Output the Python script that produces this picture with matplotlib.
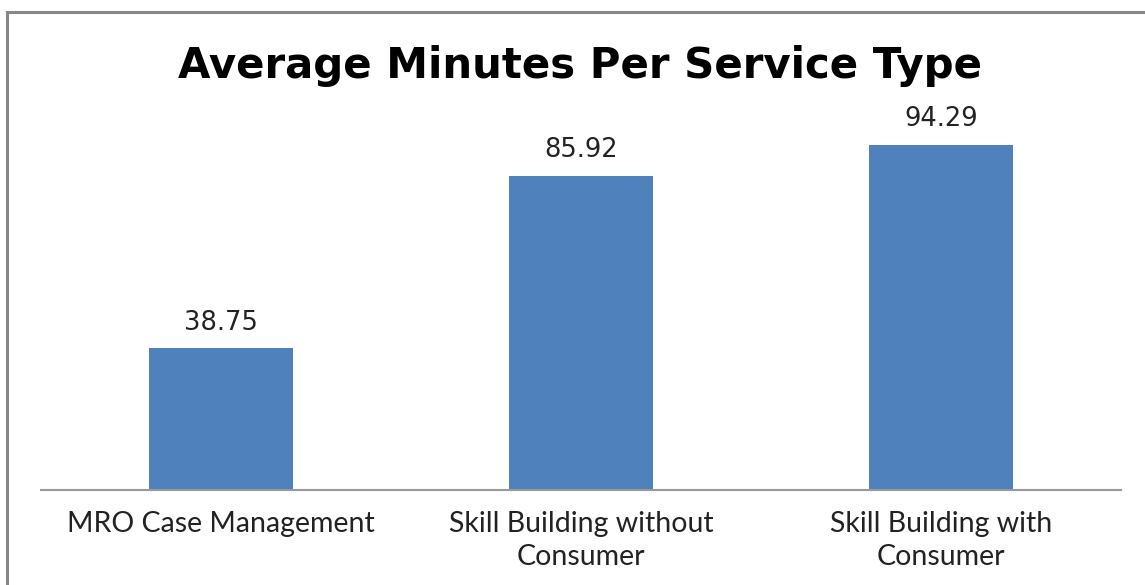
import matplotlib.pyplot as plt
from matplotlib.patches import Rectangle

categories = ["MRO Case Management", "Skill Building without\nConsumer", "Skill Building with\nConsumer"]
values = [38.75, 85.92, 94.29]
title = "Average Minutes Per Service Type"

W, H = 1145, 585
fig = plt.figure(figsize=(W / 100, H / 100), dpi=100)

# outer gray frame (runs off the right and bottom edges)
fig.patches.append(Rectangle((7 / W, -0.05), 1.2, 1 - 12 / H + 0.05, transform=fig.transFigure,
                             fill=False, edgecolor="#878787", linewidth=2.2))

ax = fig.add_axes([41 / W, (H - 490) / H, (1121 - 41) / W, (490 - 124) / H])
x = range(len(values))
ax.bar(x, values, width=0.4, color="#4F81BD")
ax.set_xlim(-0.5, 2.5)
ax.set_ylim(0, 100)

for i, v in enumerate(values):
    ax.annotate(f"{v:.2f}", (i, v), xytext=(0, 9), textcoords="offset points",
                ha="center", va="bottom", fontsize=18.5, color="#222222", family="DejaVu Sans")

for s in ["top", "right", "left"]:
    ax.spines[s].set_visible(False)
ax.spines["bottom"].set_color("#999999")
ax.spines["bottom"].set_linewidth(1.5)
ax.set_yticks([])
ax.set_xticks(list(x))
ax.set_xticklabels(categories, fontsize=20.5, family="Lato", color="#222222", linespacing=1.35)
ax.tick_params(axis="x", length=0, pad=15)

fig.text(580 / W, 1 - 66 / H, title, ha="center", va="center", fontsize=30.2,
         fontweight="bold", family="DejaVu Sans")

fig.savefig("out.png", dpi=100)
